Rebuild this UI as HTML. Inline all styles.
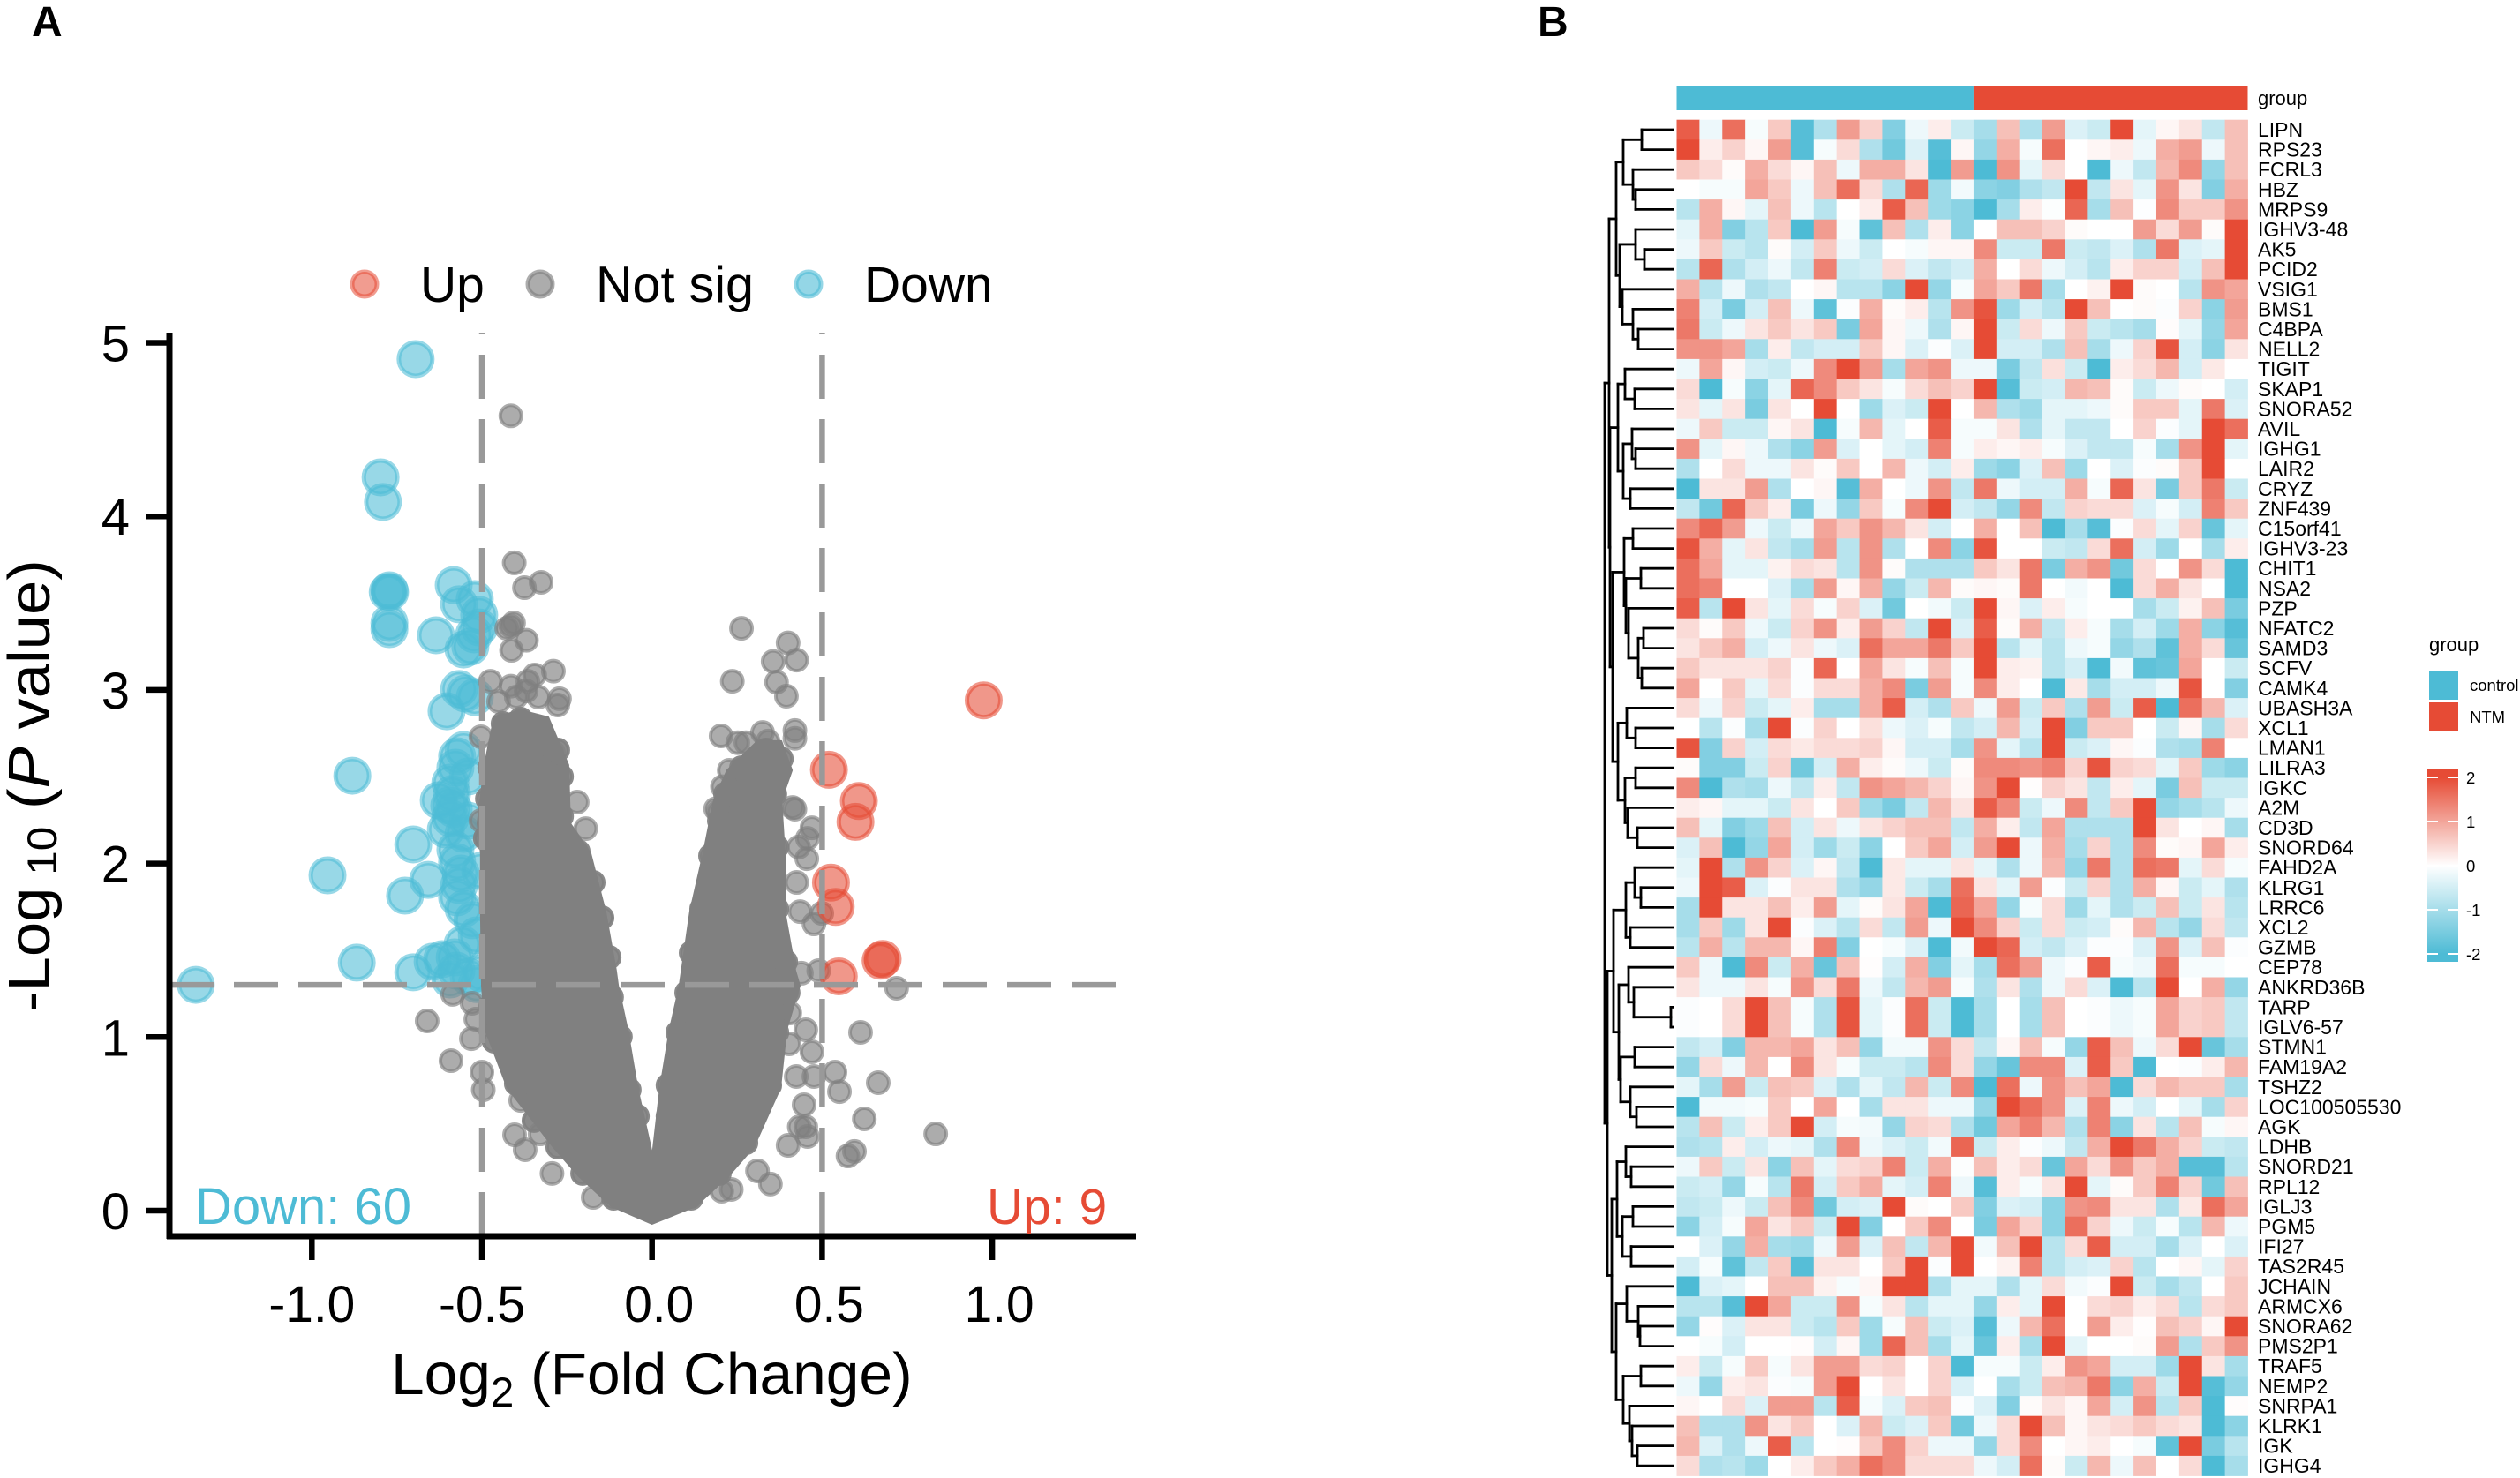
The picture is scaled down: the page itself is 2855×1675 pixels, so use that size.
<!DOCTYPE html>
<html>
<head>
<meta charset="utf-8">
<title>Volcano plot and heatmap</title>
<style>
html,body{margin:0;padding:0;background:#fff;}
svg{display:block;}
text{font-family:"Liberation Sans",Arial,sans-serif;fill:#000;}
</style>
</head>
<body>
<svg id="fig" xmlns="http://www.w3.org/2000/svg" width="2855" height="1675" viewBox="0 0 2855 1675">
<defs>
<linearGradient id="cbGrad" x1="0" y1="0" x2="0" y2="1">
<stop offset="0" stop-color="#E64B35"/>
<stop offset="0.041" stop-color="#E64B35"/>
<stop offset="0.5" stop-color="#FFFFFF"/>
<stop offset="0.959" stop-color="#4DBBD5"/>
<stop offset="1" stop-color="#4DBBD5"/>
</linearGradient>
</defs>
<rect x="0" y="0" width="2855" height="1675" fill="#fff"/>
<text x="36" y="41" font-size="48" font-weight="bold">A</text>
<text x="1742" y="41" font-size="48" font-weight="bold">B</text>
<g id="volcano"></g>
<g id="heat"></g>
<text transform="translate(443,1580) scale(1.01,1)" font-size="67">Log<tspan font-size="47" dy="14">2</tspan><tspan dy="-14"> (Fold Change)</tspan></text>
<text transform="translate(56,1147) rotate(-90) scale(1.055,1)" font-size="67">-Log<tspan font-size="47" dy="8"> 10</tspan><tspan dy="-8"> (</tspan><tspan font-style="italic">P</tspan> value)</text>
<text x="221" y="1387" font-size="58" style="fill:#4DBBD5">Down: 60</text>
<text x="1118" y="1387" font-size="57" style="fill:#E64B35">Up: 9</text>
<text x="476" y="342" font-size="57">Up</text>
<text x="675" y="342" font-size="57.5">Not sig</text>
<text x="979" y="342" font-size="57">Down</text>
<circle cx="413" cy="322" r="14" fill="#E64B35" fill-opacity=".55" stroke="#E64B35" stroke-opacity=".55" stroke-width="5"/>
<circle cx="612" cy="322" r="14" fill="#808080" fill-opacity=".65" stroke="#808080" stroke-opacity=".65" stroke-width="5"/>
<circle cx="916" cy="322" r="14" fill="#4DBBD5" fill-opacity=".6" stroke="#4DBBD5" stroke-opacity=".6" stroke-width="5"/>
<text x="2752" y="738" font-size="22">group</text>
<rect x="2752" y="760" width="33" height="33" fill="#4DBBD5"/>
<rect x="2752" y="796" width="33" height="32" fill="#E64B35"/>
<text x="2798" y="783" font-size="18.5">control</text>
<text x="2798" y="819" font-size="18.5">NTM</text>
<rect x="2750" y="872" width="35" height="218" fill="url(#cbGrad)"/>
<g id="cb"></g>
</svg>
<script>
// ---------- Volcano data ----------
var xTicks = [-1.0, -0.5, 0.0, 0.5, 1.0];
var xTickLabels = ['-1.0', '-0.5', '0.0', '0.5', '1.0'];
var yTicks = [0, 1, 2, 3, 4, 5];
var yTickLabels = ['0', '1', '2', '3', '4', '5'];
var lfcThresholds = [-0.5, 0.5];
var pThreshold = 1.301;

var downLfc = [-.695,-.798,-.791,-.772,-.777,-.770,-.772,-.772,-.583,-.567,-.521,-.508,-.635,-.554,-.534,-.523,-.508,-.567,-.549,-.604,-.521,-.573,-.578,-.593,-.627,-.588,-.583,-.593,-.881,-.702,-.658,-.726,-.578,-.573,-.562,-.573,-.528,-.617,-.702,-.557,-.575,-.539,-.502,-.954,-.868,-1.341,-.596,-.505,-.541,-.554,-.541,-.567,-.554,-.515,-.645,-.593,-.515,-.580,-.554,-.606];
var downP = [4.906,4.225,4.083,3.574,3.564,3.564,3.386,3.350,3.604,3.493,3.523,3.432,3.315,3.233,3.249,3.320,3.360,3.005,2.979,2.877,2.959,2.618,2.552,2.466,2.364,2.400,2.313,2.262,2.506,2.110,1.906,1.815,2.079,2.008,1.942,1.805,1.673,1.449,1.373,1.535,1.383,1.347,1.368,1.932,1.429,1.301,2.334,1.957,2.247,2.654,2.501,1.876,1.739,1.586,1.434,1.332,1.305,1.459,2.171,2.196];

var upLfc = [.975,.520,.608,.598,.526,.540,.678,.672,.549];
var upP = [2.94,2.54,2.36,2.24,1.89,1.75,1.45,1.44,1.35];

var cloudLfc = [0,-.119,-.215,-.290,-.425,-.490,-.500,-.503,-.503,-.513,-.492,-.464,-.386,-.305,-.246,-.241,-.181,-.137,-.106,-.100,-.072,-.043,-.004,.001,.024,.052,.081,.112,.151,.182,.221,.310,.380,.411,.380,.390,.390,.421,.434,.395,.377,.299,.224,.128];
var cloudP = [-.076,.025,.198,.366,.707,1.042,1.296,1.723,2.059,2.232,2.567,2.842,2.883,2.842,2.567,2.232,2.059,1.723,1.383,1.296,1.042,.707,.366,.315,.707,1.042,1.296,1.723,2.059,2.364,2.537,2.705,2.705,2.537,2.364,2.059,1.723,1.383,1.296,1.042,.707,.366,.198,.025];

var denseLfc = [-.334,-.277,-.266,-.266,-.217,-.173,-.147,-.126,-.119,-.093,-.067,-.043,-.399,-.347,-.277,-.204,-.113,-.464,-.474,-.438,-.386,-.477,-.484,-.490,.335,.263,.216,.198,.172,.146,.115,.102,.076,.047,.047,.380,.361,.367,.367,.393,.400,.367,.346,.276,.198,.115];
var denseP = [2.781,2.654,2.501,2.272,2.069,1.891,1.688,1.459,1.230,1.002,.696,.544,.732,.519,.366,.214,.071,.976,1.179,2.806,2.832,2.552,2.374,2.145,2.654,2.552,2.400,2.247,2.044,1.739,1.485,1.256,1.027,.722,.544,2.603,2.400,2.095,1.739,1.434,1.256,1.027,.722,.391,.214,.071];

var greyLfc = [-.415,-.405,-.375,-.326,-.415,-.427,-.407,-.369,-.413,-.475,-.415,-.345,-.365,-.290,-.370,-.272,-.277,-.399,-.451,-.334,.263,.400,.356,.425,.236,.366,.395,.203,.252,.276,.325,.341,.420,.420,.227,.207,.187,.420,.470,.455,.425,.435,.476,.499,.490,.439,.457,.431,-.220,-.195,-.290,-.503,-.503,-.661,-.586,-.529,-.518,-.531,-.591,-.500,-.496,-.386,-.404,-.373,-.294,-.329,-.173,.719,.613,.665,.538,.551,.624,.834,.595,.576,.452,.433,.457,.400,.447,.476,.470,.452,.405,.403,.424,.348,.233,.205,.310,.413,.195];
var greyP = [4.579,3.732,3.589,3.620,3.368,3.355,3.386,3.286,3.228,3.050,3.022,3.086,3.050,3.108,2.994,2.949,2.913,2.959,2.933,2.959,3.355,3.271,3.164,3.172,3.050,3.045,2.964,2.735,2.696,2.696,2.755,2.705,2.766,2.721,2.537,2.442,2.315,2.313,2.206,2.028,1.891,1.723,1.652,1.713,1.383,1.368,2.145,2.095,2.354,2.201,2.639,2.730,2.247,1.093,1.246,1.195,1.103,.991,.864,.798,.696,.635,.437,.351,.214,.442,.076,1.281,1.027,.737,.798,.686,.529,.442,.341,.315,.483,.483,.427,.376,.610,.773,.915,1.042,1.139,.961,.773,.153,.122,.112,.229,2.323,2.298];

// ---------- Heatmap data ----------
var geneNames = ['LIPN','RPS23','FCRL3','HBZ','MRPS9','IGHV3-48','AK5','PCID2','VSIG1','BMS1','C4BPA','NELL2','TIGIT','SKAP1','SNORA52','AVIL','IGHG1','LAIR2','CRYZ','ZNF439','C15orf41','IGHV3-23','CHIT1','NSA2','PZP','NFATC2','SAMD3','SCFV','CAMK4','UBASH3A','XCL1','LMAN1','LILRA3','IGKC','A2M','CD3D','SNORD64','FAHD2A','KLRG1','LRRC6','XCL2','GZMB','CEP78','ANKRD36B','TARP','IGLV6-57','STMN1','FAM19A2','TSHZ2','LOC100505530','AGK','LDHB','SNORD21','RPL12','IGLJ3','PGM5','IFI27','TAS2R45','JCHAIN','ARMCX6','SNORA62','PMS2P1','TRAF5','NEMP2','SNRPA1','KLRK1','IGK','IGHG4'];
var groupSizes = [13, 12];
var colorbarTicks = [2, 1, 0, -1, -2];
var heatValues = [
[1.8,-.2,1.6,-.1,.6,-1.9,-.9,1.1,.5,-1.4,-.2,.2,-.6,-1,.7,-.9,1.1,-.4,-.6,2,-.3,.1,.3,-.7,.7],
[2,.2,.5,.1,1.1,-1.9,-.1,.4,-.9,-1.6,-.4,-1.9,.1,-1.2,.9,-.1,1.6,0,.1,.2,-.2,.9,1.1,-.2,.7],
[.6,.4,.05,.9,.4,.1,.7,-.2,.9,.9,.3,-2,1.1,-2,1.2,-.3,.4,0,-2,-.2,-.7,.8,1.3,-1.2,.7],
[0,-.1,-.1,1,.6,-.2,.7,1.6,.4,-.9,1.7,-1.1,-.15,-1.3,-1.4,-.9,-.7,2,-.7,.3,-.3,1.2,.3,-1.4,.9],
[-.8,.9,.1,-.3,.7,-.2,-.8,0,.2,1.8,.7,-1.1,-1.3,-2,-1,.2,-.03,1.7,-1,.7,-.02,1.3,.6,.6,1.2],
[-.3,.9,-1.4,-.8,.6,-2,1.1,-.1,-1.8,.7,-.9,.2,-1.3,0,.7,.7,.5,.05,0,0,1.1,.4,1.1,.05,2],
[-.2,.6,-.6,-.8,.05,-.5,.6,-.2,-.6,0,-.1,.1,.1,1.3,-.6,-.6,1.5,-.6,-.7,-.4,-.9,1.5,-.4,-.3,2],
[-.8,1.7,-.9,-.5,-.2,-.7,1.4,-.6,-.5,.4,-.4,-.7,-.5,.9,0,.4,-.2,-.5,-.8,.2,.5,.5,-.5,.7,2],
[.9,-.8,-.2,-.9,-.7,0,.1,-.8,-.8,-1.3,2,-1.2,-.1,1,.6,1.5,-1,0,.15,2,.05,0,-.8,1.2,1],
[1.4,-.5,-1.5,-.5,.7,-.2,-1.8,-.05,.9,.05,.2,-.8,1.2,1.9,-1.1,-.5,-.8,2,.7,0,.05,-.05,.5,-1.3,1.1],
[1.5,-.6,-.2,.3,.6,.3,.6,-1.5,1,.1,-.2,-.9,.1,2,-.6,.4,-.2,.6,-.6,-.8,-1,.03,-.3,-1.2,1],
[1.2,1.2,1,-1,.2,-.7,-.5,-.5,.6,.1,-.4,-.05,-.4,2,-.5,-.5,-.9,.7,-1,-.2,.5,1.9,-.5,-1.3,.3],
[-.2,1,.1,-.5,-.6,-.2,1.3,2,1.1,-1,1,1.2,-.2,-.2,-1.5,-.7,.35,-.6,-2,.2,.4,.8,-.5,.25,0],
[.4,-2,-.1,-1.3,-.3,1.7,1.3,.6,.3,-.1,.4,.7,.5,2,-1.9,-.6,-.5,.8,.7,.05,-.6,-.2,.05,0,-.5],
[.3,-.3,.3,-1.5,.3,0,2,0,-1.1,-.4,-.6,2,0,.8,-.9,-1.1,-.3,-.3,-.2,.05,.6,.6,-.3,1.5,-.4],
[-.2,.6,-.6,-.6,.1,.3,-2,-.1,.8,-.3,0,1.8,-.1,-.1,.3,-.9,-.3,-.7,-.7,0,.5,-.05,-.3,2,1.6],
[1.2,-.3,.1,-.2,-.9,-1.3,1.1,-.4,0,-.3,-.5,1.4,-.1,.2,.1,.2,-.1,-.4,-.7,-.7,-.1,-1,1.2,2,-.3],
[-.9,0,.4,-.2,-.2,.3,.05,.6,0,.8,-.2,-.5,.2,-1.1,-1.3,-.4,.7,-1.1,0,-.4,-.05,.05,.6,2,0],
[-2,.3,.3,1.1,-.9,0,.1,-1.9,.9,0,-.2,1.2,-.7,1.5,-.2,-.5,-.5,.9,-.1,1.7,.3,-1.5,.6,1.5,-.6],
[-.7,-1.6,1.7,.6,.2,-1.5,-.2,-1.2,.6,-.1,1.3,2,-.5,-.7,-1.2,1.3,-.7,.5,.4,.4,-.4,-.1,-.5,1.4,.6],
[1.3,1.7,1.1,-.2,-.6,-.2,1,.6,1.2,.8,.3,-.5,0,.9,0,.7,-2,-1,-1.9,-.05,.4,-.3,.5,-1.7,-.3],
[1.9,.9,-.3,.3,-.7,-1,1.1,-.8,1.2,-.9,0,1.3,-1.3,1.9,0,0,-.6,-.7,.4,1.6,-.5,-1.1,0,-1,.2],
[1.6,1,-.3,-.3,.15,.4,.3,-.8,1.2,.05,-.9,-.9,-.9,.6,.3,1.5,-1.5,.9,1.2,-1.6,.4,0,1.2,.4,-2],
[1.6,1.4,0,0,-.4,-1,1.1,.1,.9,-1.2,-.6,.8,.05,.1,.05,1.5,0,-.15,0,-2,.4,.9,.3,0,-2],
[1.8,-.8,2,.3,-.3,.4,-.1,.5,-.4,-1.6,0,-.15,-.6,2,.1,-.4,.2,-.1,0,0,-1,-.6,.15,.7,-1.5],
[.4,.05,.6,-.2,-.6,.5,1.2,.2,1.1,.5,-.7,2,-.4,1.8,.05,.9,-.7,.2,-.1,-1,-.5,-1.1,.9,-1.3,-1.9],
[.3,.6,.9,-.5,-.2,.3,-.2,-.4,1.6,1,1,1.5,.6,2,-.8,-.3,-.8,-.2,-.1,-1.2,-.9,-1.8,.9,.4,-1.7],
[.6,.3,.3,.3,.5,-.05,1.7,0,1,.3,-.1,.7,-.1,2,.2,.15,-.8,-.5,-2,-.15,-1.8,-1.7,1,0,-.6],
[1,0,.6,-.3,.4,-.05,.4,.4,.9,1.3,-1.5,1.1,-.1,1.3,.2,0,-2,.25,-1,-.5,-.5,-.2,1.9,0,-1.4],
[.4,-.2,.5,-.6,-.3,.2,-1,-1,.9,1.8,-.5,-.9,.6,-.2,1.1,-.6,.6,-.9,1.1,-.6,1.8,-2,1.6,.8,-.4],
[0,-.8,-.05,-1,2,-.05,.5,0,.35,-.2,-.4,-.1,-.7,-.5,.8,-.5,2,-1.4,.6,.6,0,-.6,.1,-1,.4],
[1.9,-1.4,.5,-.5,.4,.25,.4,.4,.5,.1,-.5,-.5,-1,1.2,-.3,-.8,2,-.6,-.4,.1,-.05,-.9,-1,1.4,0],
[.05,-1.4,-1.4,-.6,.5,-1.6,-.5,.9,.2,.05,-.2,-.6,.05,1.3,1.3,1.2,1.4,.5,1.9,.5,.4,-.3,.6,-1.1,-1.3],
[1.3,-2,-.9,-1,-.2,-.7,.2,-.7,1.2,1,.8,.5,.1,1.2,2,.02,.5,.3,-.7,.2,-.3,-1.5,.7,-.6,-.6],
[.2,.1,-.3,-.3,-.6,.3,0,.6,-1.1,-1.5,-.7,.8,.3,1.8,1.3,-.6,-.2,1.3,-.7,.6,2,-1.2,-1,-.8,-.2],
[.7,-.3,-1.4,-1.1,.7,-.5,.3,-.2,.3,.5,.7,.7,-.7,.9,.2,-.7,1,-.9,-.9,-.9,2,.3,0,.1,-1],
[-.4,.7,-2,-1.2,1,-.5,-1.1,-.6,-1.3,0,.6,1,-.5,1.1,2,-.2,.9,-1,.5,-.9,1.3,.05,.1,1,.2],
[-.3,2,-.9,1.2,.5,-.4,.1,-.7,-2,.25,-.3,-.3,.3,-.3,-.9,-.2,.8,-1.2,1.5,-.9,1.6,1.5,-.3,.4,-.1],
[-.2,2,1.8,-.4,-.05,.3,.3,-.9,-1.2,.25,-.6,-1,1.6,.3,-.3,1.1,-.05,-.6,.5,-.9,.9,.1,-.6,-.3,-.9],
[-1,2,.3,.3,.7,.2,1.1,-.3,.05,.3,1,-2,1.7,1,-1.2,-.1,.4,-1.1,-.3,-.9,-.6,.7,-.6,.3,-.8],
[-1,.6,-1.1,.3,2,-.05,-.4,-.8,.4,-.7,1.1,-.2,2,1.3,.5,-.6,.4,-.6,-.5,.05,.8,-.8,-1.2,.4,-.7],
[-.8,.9,-.8,.8,.8,.1,1.4,-1.4,0,-.1,-.4,-2,-.15,2,1.7,-.5,-.7,-.4,-.05,-.05,-.4,1.2,-.4,.7,-.05],
[.6,-.2,-2,1.3,-.6,.9,-1.7,.7,.02,-.5,.9,-1.4,-.3,-1,1.6,1.1,-.2,-.05,1.8,-.1,-.2,1.6,-.1,-.1,0],
[.3,-.2,-.2,.3,-.1,1.2,.4,1.5,-.2,-.7,.8,1.1,-.1,-.9,.3,-.9,-.2,.4,-.4,-2,-.8,2,0,.9,-1.2],
[-.05,0,.4,2,.7,-.1,-.9,1.9,-.3,-.05,1.6,-.6,-2,-1,0,-1,.7,0,-.05,-.2,-.1,1,.5,.6,-.7],
[-.05,0,.4,2,.7,-.1,-.9,1.9,-.3,-.05,1.6,-.6,-2,-1,0,-1,.7,0,-.05,-.2,-.1,1,.5,.6,-.7],
[-.7,-.5,-1.4,.8,.8,1,.3,.7,-1.2,-.15,-.15,1.2,.4,-.7,.1,.7,-.1,-1.2,1.8,.7,-.2,.4,2,-1.7,-1],
[-1.2,.4,-.2,.8,0,1.3,.3,-.1,-.6,-.6,-.8,1.3,.4,-1.2,-1.7,1.3,1.3,-.4,1.8,.6,-2,0,-.05,.2,.8],
[-.3,-1,1.1,-.6,.7,.6,-.4,-.9,-.3,-.7,.8,-.6,1.3,-2,1.6,-.2,1.2,.7,1,-2,.4,.8,.6,.6,-1],
[-2,-.15,-.15,-.1,.6,0,1,0,-1,.3,.3,-.2,-.2,-1.2,2,1.6,1.2,-.4,1.4,-.2,-.5,0,-.3,-1,.5],
[-.8,.7,-.6,.2,.6,2,-.5,-.1,-.15,-1.2,.5,.4,-.9,-1.6,1,1.4,.8,-.9,1.4,-1.3,.3,-.8,.7,-.1,.1],
[-.9,-.8,.2,-.5,-.2,-.3,-.9,1.3,-.2,-.4,-.6,-.15,1.7,-.6,.2,-.05,-.2,-.7,.9,2,1.5,.9,.5,-.6,-.7],
[-.2,.6,-.6,.3,-1.3,.7,-.3,.4,.5,1.4,-.6,.9,-.03,.7,.2,.4,-1.7,1,.4,1.2,.6,.9,-1.9,-1.9,-.8],
[-.6,-.5,-1.2,-.1,-.8,1.5,-.5,.6,.9,-.3,-.5,1.4,-.2,-1.9,.2,-.1,.3,2,-.3,.05,.6,1.4,.5,-1.6,.7],
[-.7,-.6,-.2,-.6,.7,1.3,-1.6,-.5,-.4,2,.05,0,.6,-1.4,-.4,-.5,-1.3,1.2,1.3,.3,.3,-.9,.25,1.6,1],
[-1.3,-.5,-.1,1,.3,.6,-.6,2,-1.4,0,.6,1.3,0,-1.5,1,.5,-1.3,1.6,.5,-.2,-.6,-.1,-.8,.8,-.2],
[0,-.4,-1.2,.9,-1,-1.1,-.2,1.1,-.4,.7,-.7,.8,2,-.15,.7,2,-.8,.4,1.8,-.5,-.5,-1,-.4,0,-.4],
[-.5,-.1,-1.8,-.7,.6,-1.9,.3,.3,0,.6,2,-.05,2,0,.15,1.4,-.8,-.5,-.4,.5,-.8,0,.1,-.3,.5],
[-2,-.4,-.3,0,.7,.7,.15,-.1,.1,2,2,-.9,-.3,-.3,-.9,-.3,.4,-.15,-.05,2,-.6,-1,-.7,0,.6],
[-.8,-.8,-1.9,2,1,-.6,-.6,1.2,-.1,.3,-.8,-.3,-.3,-1.2,.2,-.3,2,0,.4,.5,.2,.4,-.8,.4,.6],
[-1.2,.03,-.4,.3,.3,-.6,-.8,.6,-1.1,-.1,.7,-.6,-.4,-1.9,-.2,.8,1.6,0,1.1,.2,.02,.7,.5,.1,2],
[0,-.1,-.5,0,0,.03,-.5,.1,-1.1,1.7,.7,-1,-.3,-1.7,.2,-1,2,-.3,0,0,.05,1.1,-.9,.6,1.2],
[.2,-.6,-.1,.6,-.1,.3,1.1,1.1,.4,.5,0,.5,-2,-.1,-.1,-.6,.2,1.2,1,-.5,-.5,-1.1,2,.3,-1],
[-.2,-1.2,.2,.3,-.05,-.1,1.1,2,0,.3,0,.5,-.4,0,-1,-.6,.7,.8,1.5,-1.3,.9,-.6,2,-1.9,-1.2],
[.1,0,.4,-.4,1.1,1.1,-.8,1.8,-.1,-.4,.6,.7,-.05,-.4,-1.4,.05,.3,.1,1,-.5,1.2,-.8,.6,-2,.03],
[.7,-.9,-.9,1.2,.3,.6,0,-.4,.8,-.6,-.4,.6,-1.6,-.2,.4,2,.7,.1,.3,.4,.6,.4,.3,-2,-1.3],
[.8,-.4,-.9,-.2,1.8,-.8,0,.03,.6,1.3,.5,-.2,-.2,-1.2,.4,1.3,0,.1,.2,0,-.1,-1.8,2,-1.5,-.8],
[.4,-.9,-.8,-1.1,0,.2,.6,.9,1.6,1.3,.4,.4,.4,-.2,-.5,1.6,.05,-.6,.8,-.2,.7,0,.4,-2,-1]
];

// Dendrogram: [mergeHeight, childA, childB]; a number is a row index.
var dendroTop = [72,
  [64,[56,[35,0,1],[45,2,[42,3,4]]],[60,[42,5,[32,6,7]],[57,8,[45,9,[39,10,11]]]]],
  [71,[62,[54,12,[43,13,14]],[56,[46,15,[42,16,17]],[48,18,19]]],
      [68,[55,[45,20,21],[53,[36,22,23],[50,24,[39,[33,25,26],[35,27,28]]]]],
          [62,[52,29,[42,30,31]],[54,[42,32,33],[51,34,[40,35,36]]]]]]];
var dendroBottom = [74,
  [67,[53,[43,37,[36,38,39]],[48,40,41]],
      [61,[50,42,[44,43,[2,44,45]]],[59,[43,46,47],[48,48,[41,49,50]]]]],
  [69,[63,[53,51,[47,52,53]],[57,[45,54,55],[47,56,57]]],
      [64,[52,58,[39,59,[37,60,61]]],[56,[36,62,63],[49,64,[46,65,[40,66,67]]]]]]];
var dendroRootHeight = 77;

// ---------- Helpers ----------
var NS = 'http://www.w3.org/2000/svg';
function mk(tag, parent) {
  var el = document.createElementNS(NS, tag);
  parent.appendChild(el);
  return el;
}
function sx(v) { return 738.7 + v * 385.4; }
function sy(v) { return 1372 - v * 196.7; }

var vol = document.getElementById('volcano');

function drawPoints(xs, ys, name, color, r, sw, alpha) {
  var g = mk('g', vol);
  
  
  for (var i = 0; i < xs.length; i++) {
    var c = mk('circle', g);
    
    
    c.setAttribute('cx', sx(xs[i]));
    c.setAttribute('cy', sy(ys[i]));
    c.setAttribute('r', r);
    c.setAttribute('fill', color);
    c.setAttribute('fill-opacity', alpha);
    c.setAttribute('stroke', color);
    c.setAttribute('stroke-opacity', alpha);
    c.setAttribute('stroke-width', sw);
  }
}

drawPoints(downLfc, downP, 'down', '#4DBBD5', 19, 5, .58);

var cloud = mk('polygon', vol);


cloud.setAttribute('fill', '#808080');
cloud.setAttribute('stroke', '#808080');
cloud.setAttribute('stroke-width', '2');
cloud.setAttribute('stroke-linejoin', 'round');
cloud.setAttribute('points', cloudLfc.map(function (v, i) { return sx(v) + ',' + sy(cloudP[i]); }).join(' '));

drawPoints(greyLfc, greyP, 'not-sig', '#808080', 12, 4, .65);
drawPoints(denseLfc, denseP, 'not-sig-dense', '#808080', 12, 4, .92);
drawPoints(upLfc, upP, 'up', '#E64B35', 19, 5, .58);

// threshold lines
lfcThresholds.forEach(function (t) {
  var l = mk('line', vol);
  
  
  l.setAttribute('x1', sx(t));
  l.setAttribute('x2', sx(t));
  l.setAttribute('y1', 1401);
  l.setAttribute('y2', 377);
  l.setAttribute('stroke', '#999');
  l.setAttribute('stroke-width', 6.5);
  l.setAttribute('stroke-dasharray', '50 23');
});
var hl = mk('line', vol);


hl.setAttribute('x1', 192);
hl.setAttribute('x2', 1265);
hl.setAttribute('y1', sy(pThreshold));
hl.setAttribute('y2', sy(pThreshold));
hl.setAttribute('stroke', '#999');
hl.setAttribute('stroke-width', 6.5);
hl.setAttribute('stroke-dasharray', '50 23');

// axes
var ya = mk('line', vol);


ya.setAttribute('x1', 192);
ya.setAttribute('x2', 192);
ya.setAttribute('y1', 377);
ya.setAttribute('y2', 1404);
ya.setAttribute('stroke', '#000');
ya.setAttribute('stroke-width', 7);
var xa = mk('line', vol);


xa.setAttribute('x1', 189);
xa.setAttribute('x2', 1287);
xa.setAttribute('y1', 1401);
xa.setAttribute('y2', 1401);
xa.setAttribute('stroke', '#000');
xa.setAttribute('stroke-width', 7);

xTicks.forEach(function (t, i) {
  var l = mk('line', vol);
  
  
  l.setAttribute('x1', sx(t));
  l.setAttribute('x2', sx(t));
  l.setAttribute('y1', 1401);
  l.setAttribute('y2', 1428);
  l.setAttribute('stroke', '#000');
  l.setAttribute('stroke-width', 6.5);
  var tx = mk('text', vol);
  
  
  tx.setAttribute('text-anchor', 'middle');
  tx.setAttribute('font-size', '58');
  tx.setAttribute('transform', 'translate(' + (sx(t) + (t < 0 ? 0 : 8)) + ',1498) scale(.98,1)');
  tx.textContent = xTickLabels[i];
});
yTicks.forEach(function (t, i) {
  var l = mk('line', vol);
  
  
  l.setAttribute('x1', 165);
  l.setAttribute('x2', 192);
  l.setAttribute('y1', sy(t));
  l.setAttribute('y2', sy(t));
  l.setAttribute('stroke', '#000');
  l.setAttribute('stroke-width', 6.5);
  var tx = mk('text', vol);
  
  
  tx.setAttribute('text-anchor', 'end');
  tx.setAttribute('font-size', '58');
  tx.setAttribute('x', 147);
  tx.setAttribute('y', sy(t) + 21);
  tx.textContent = yTickLabels[i];
});

// ---------- Heatmap ----------
var heat = document.getElementById('heat');
var hmLeft = 1899.5, hmRight = 2546.5, hmTop = 135.7, rowH = 22.6;
var colW = (hmRight - hmLeft) / heatValues[0].length;
function rowY(i) { return hmTop + rowH * (i + .5); }
function colorOf(v) {
  var t = Math.min(1, Math.abs(v) / 2);
  var c = v >= 0 ? [230, 75, 53] : [77, 187, 213];
  return 'rgb(' + c.map(function (k) { return Math.round(255 + (k - 255) * t); }).join(',') + ')';
}
var groupColors = ['#4DBBD5', '#E64B35'];
var gx = hmLeft;
groupSizes.forEach(function (n, i) {
  var r = mk('rect', heat);
  
  
  r.setAttribute('x', gx);
  r.setAttribute('y', 98);
  r.setAttribute('width', n * colW);
  r.setAttribute('height', 27);
  r.setAttribute('fill', groupColors[i]);
  gx += n * colW;
});
var gl = mk('text', heat);


gl.setAttribute('x', 2558);
gl.setAttribute('y', 119);
gl.setAttribute('font-size', '22');
gl.textContent = 'group';

heatValues.forEach(function (row, i) {
  row.forEach(function (v, j) {
    var r = mk('rect', heat);
    
    
    r.setAttribute('x', hmLeft + j * colW);
    r.setAttribute('y', hmTop + i * rowH);
    r.setAttribute('width', colW + .4);
    r.setAttribute('height', rowH + .4);
    r.setAttribute('fill', colorOf(v));
  });
  var t = mk('text', heat);
  
  
  t.setAttribute('x', 2558);
  t.setAttribute('y', rowY(i) + 8);
  t.setAttribute('font-size', '23');
  t.textContent = geneNames[i];
});

// ---------- Dendrogram ----------
var dendro = mk('g', heat);


var leafX = 1895;
function hx(h) { return leafX - h; }
function seg(x1, y1, x2, y2) {
  var l = mk('line', dendro);
  
  
  l.setAttribute('x1', x1);
  l.setAttribute('y1', y1);
  l.setAttribute('x2', x2);
  l.setAttribute('y2', y2);
  l.setAttribute('stroke', '#000');
  l.setAttribute('stroke-width', 2.8);
  l.setAttribute('stroke-linecap', 'square');
}
function drawNode(n) {
  if (typeof n === 'number') return { x: leafX, y: rowY(n) };
  var a = drawNode(n[1]), b = drawNode(n[2]), x = hx(n[0]);
  seg(a.x, a.y, x, a.y);
  seg(b.x, b.y, x, b.y);
  seg(x, a.y, x, b.y);
  return { x: x, y: (a.y + b.y) / 2 };
}
drawNode([dendroRootHeight, dendroTop, dendroBottom]);

// ---------- Colorbar ticks ----------
var cb = document.getElementById('cb');
colorbarTicks.forEach(function (v) {
  var y = 981 - v * 50;
  [[2750, 2762], [2773, 2785]].forEach(function (s) {
    var l = mk('line', cb);
    
    
    l.setAttribute('x1', s[0]);
    l.setAttribute('x2', s[1]);
    l.setAttribute('y1', y);
    l.setAttribute('y2', y);
    l.setAttribute('stroke', '#fff');
    l.setAttribute('stroke-width', 2);
  });
  var t = mk('text', cb);
  
  
  t.setAttribute('x', 2794);
  t.setAttribute('y', y + 7);
  t.setAttribute('font-size', '18.5');
  t.textContent = String(v);
});
</script>
</body>
</html>
